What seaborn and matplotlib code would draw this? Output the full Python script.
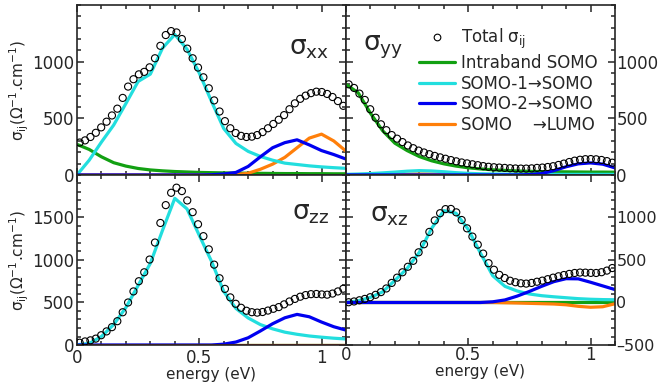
import numpy as np
import pandas as pd
import seaborn as sns
import matplotlib
matplotlib.use("Agg")
from matplotlib import pyplot as plt
from matplotlib.ticker import MultipleLocator
from matplotlib.lines import Line2D

# energy grids (eV)
e_tot = [0.011, 0.033, 0.055, 0.077, 0.099, 0.121, 0.143, 0.165, 0.187, 0.209,
         0.231, 0.253, 0.275, 0.297, 0.319, 0.341, 0.363, 0.385, 0.407, 0.429,
         0.451, 0.473, 0.495, 0.517, 0.539, 0.561, 0.583, 0.605, 0.627, 0.649,
         0.671, 0.693, 0.715, 0.737, 0.759, 0.781, 0.803, 0.825, 0.847, 0.869,
         0.891, 0.913, 0.935, 0.957, 0.979, 1.001, 1.023, 1.045, 1.067, 1.089]
e_line = [0.0, 0.05, 0.10, 0.15, 0.20, 0.25, 0.30, 0.35, 0.40, 0.45, 0.50, 0.55,
          0.60, 0.65, 0.70, 0.75, 0.80, 0.85, 0.90, 0.95, 1.00, 1.05, 1.10]

# ---- sigma_xx
xx_total = [286, 305, 335, 372, 420, 470, 525, 585, 680, 780,
            845, 888, 910, 950, 1030, 1140, 1235, 1270, 1258, 1200,
            1115, 1030, 948, 862, 765, 658, 560, 475, 412, 370,
            345, 335, 338, 352, 378, 412, 450, 487, 528, 580,
            632, 672, 700, 722, 735, 732, 715, 688, 652, 610]
xx_intra = [270, 225, 160, 108, 78, 57, 44, 36, 30, 26, 22, 20,
            18, 16, 15, 14, 13, 12, 12, 11, 11, 10, 10]
xx_s1 = [0, 130, 290, 440, 630, 825, 890, 1120, 1240, 1110, 900, 650,
         410, 278, 208, 163, 130, 104, 92, 80, 71, 64, 58]
xx_s2 = [0, 0, 0, 0, 0, 0, 0, 0, 0, 0, 0, 2,
         8, 22, 75, 160, 240, 285, 310, 265, 215, 180, 140]
xx_lumo = [0, 0, 0, 0, 0, 0, 0, 0, 0, 0, 0, 0,
           0, 3, 15, 50, 95, 155, 240, 325, 360, 300, 210]
xx_other = [0] * 23

# ---- sigma_yy
yy_total = [800, 768, 718, 662, 580, 505, 447, 395, 352, 320,
            290, 260, 236, 215, 198, 183, 168, 155, 143, 131,
            120, 110, 102, 94, 86, 78, 72, 68, 65, 62,
            59, 57, 56, 56, 58, 62, 65, 70, 77, 88,
            100, 114, 126, 134, 139, 140, 138, 132, 122, 108]
yy_intra = [800, 725, 545, 390, 280, 215, 162, 125, 98, 78, 63, 53,
            45, 40, 35, 32, 30, 28, 27, 26, 25, 25, 24]
yy_s1 = [5, 8, 12, 18, 25, 33, 38, 35, 28, 20, 14, 10,
         8, 7, 6, 5, 5, 5, 5, 5, 5, 5, 5]
yy_s2 = [0, 0, 0, 0, 0, 0, 0, 0, 0, 0, 0, 0,
         0, 0, 0, 3, 12, 38, 72, 98, 106, 95, 62]
yy_lumo = [0, 0, 1, 2, 3, 6, 8, 7, 4, 3, 2, 1,
           0, 0, 0, 0, 0, 0, 0, 0, 0, 0, 0]

# ---- sigma_zz
zz_total = [27, 42, 55, 75, 115, 160, 210, 280, 385, 500,
            630, 750, 855, 1005, 1205, 1435, 1645, 1790, 1850, 1810,
            1700, 1562, 1420, 1280, 1125, 945, 785, 660, 560, 485,
            438, 403, 386, 381, 388, 405, 426, 446, 478, 512,
            542, 568, 587, 598, 600, 595, 592, 605, 630, 662]
zz_intra = [0] * 23
zz_s1 = [3, 18, 100, 240, 440, 700, 960, 1350, 1725, 1600, 1290, 985,
         630, 430, 318, 240, 190, 151, 126, 106, 92, 80, 71]
zz_s2 = [0, 0, 0, 0, 0, 0, 0, 0, 0, 0, 0, 0,
         10, 35, 85, 165, 250, 320, 360, 332, 270, 215, 175]
zz_lumo = [0] * 23
zz_other = [0] * 23

# ---- sigma_xz
xz_total = [3, 12, 26, 42, 62, 90, 122, 165, 230, 292,
            355, 420, 490, 590, 685, 830, 965, 1050, 1098, 1100,
            1060, 970, 872, 775, 680, 575, 462, 385, 325, 288,
            256, 238, 226, 222, 230, 244, 257, 274, 292, 308,
            323, 336, 347, 352, 351, 348, 347, 356, 375, 405]
xz_intra = [0] * 23
xz_s1 = [0, 20, 60, 125, 260, 400, 590, 870, 1080, 1050, 860, 580,
         315, 190, 135, 100, 80, 67, 56, 45, 38, 34, 32]
xz_s2 = [0, 0, 0, 0, 0, 0, 0, 0, 0, 0, 0, 0,
         8, 30, 75, 130, 190, 245, 280, 278, 238, 195, 152]
xz_lumo = [0, 0, 0, 0, 0, 0, 0, 0, 0, 0, 0, 0,
           0, -3, -6, -10, -14, -18, -27, -45, -56, -50, -15]

green = '#12a012'
cyan = '#22dede'
blue = '#0000f0'
orange = '#ff7f0a'

sns.set_style('ticks')
plt.rcParams['font.family'] = ['DejaVu Sans']
plt.rcParams['font.size'] = 11
plt.rcParams['mathtext.fontset'] = 'dejavusans'
plt.rcParams['mathtext.default'] = 'regular'

fig = plt.figure(figsize=(6.59, 3.87), dpi=100)
L, M, R = 0.1168, 0.525, 0.9332
B, C, T = 0.1085, 0.548, 0.987
ax_xx = fig.add_axes([L, C, M - L, T - C])
ax_yy = fig.add_axes([M, C, R - M, T - C])
ax_zz = fig.add_axes([L, B, M - L, C - B])
ax_xz = fig.add_axes([M, B, R - M, C - B])

panels = [
    (ax_xx, xx_total, xx_intra, xx_s1, xx_s2, xx_lumo, xx_other, '#8a3c12', 'σ$_{xx}$', (0.79, 0.75)),
    (ax_yy, yy_total, yy_intra, yy_s1, yy_s2, yy_lumo, None, None, 'σ$_{yy}$', (0.063, 0.75)),
    (ax_zz, zz_total, zz_intra, zz_s1, zz_s2, zz_lumo, zz_other, '#c80000', 'σ$_{zz}$', (0.80, 0.776)),
    (ax_xz, xz_total, xz_intra, xz_s1, xz_s2, xz_lumo, None, None, 'σ$_{xz}$', (0.09, 0.765)),
]

for ax, tot, intra, s1, s2, lumo, other, ocol, title, tpos in panels:
    df = pd.DataFrame({'energy': e_line, 'intra': intra, 's1': s1, 's2': s2, 'lumo': lumo})
    sns.lineplot(data=df, x='energy', y='intra', ax=ax, color=green, lw=2.3)
    sns.lineplot(data=df, x='energy', y='lumo', ax=ax, color=orange, lw=2.3)
    sns.lineplot(data=df, x='energy', y='s1', ax=ax, color=cyan, lw=2.3)
    sns.lineplot(data=df, x='energy', y='s2', ax=ax, color=blue, lw=2.3)
    if other is not None:
        sns.lineplot(x=e_line, y=other, ax=ax, color=ocol, lw=1.8)
    sns.scatterplot(x=e_tot, y=tot, ax=ax, marker='o', s=26, facecolor='none',
                    edgecolor='black', linewidth=0.8, zorder=5)
    ax.text(tpos[0], tpos[1], title, transform=ax.transAxes, fontsize=19,
            va='center', ha='left')
    ax.set_xlim(0, 1.1)
    ax.set_xticks([0, 0.5, 1])
    ax.set_xticklabels(['0', '0.5', '1'])
    ax.xaxis.set_minor_locator(MultipleLocator(0.1))
    ax.yaxis.set_minor_locator(MultipleLocator(100))
    ax.tick_params(which='both', direction='in', top=True, bottom=True,
                   left=True, right=True, width=1.1, labelsize=12, pad=2)
    ax.tick_params(which='major', length=5)
    ax.tick_params(which='minor', length=2.6)
    for sp in ax.spines.values():
        sp.set_linewidth(1.2)
    ax.set_xlabel('')
    ax.set_ylabel('')

ax_xx.set_ylim(0, 1500)
ax_yy.set_ylim(0, 1500)
ax_zz.set_ylim(0, 2000)
ax_xz.set_ylim(-500, 1500)
ax_xx.set_yticks([0, 500, 1000])
ax_yy.set_yticks([0, 500, 1000])
ax_zz.set_yticks([0, 500, 1000, 1500])
ax_xz.set_yticks([-500, 0, 500, 1000])
ax_xz.set_yticklabels(['\u2013500', '0', '500', '1000'])

for ax in (ax_xx, ax_yy):
    ax.tick_params(labelbottom=False)
for ax in (ax_yy, ax_xz):
    ax.tick_params(labelleft=False, labelright=True, pad=1)
ax_xz.tick_params(axis='y', labelsize=11.5)
ax_zz.tick_params(axis='x', pad=3)

ylab = 'σ$_{ij}$(Ω$^{-1}$.cm$^{-1}$)'
for ax in (ax_xx, ax_zz):
    ax.set_ylabel(ylab, fontsize=11, labelpad=1)
for ax in (ax_zz, ax_xz):
    ax.set_xlabel('energy (eV)', fontsize=11, labelpad=0)

handles = [
    Line2D([], [], ls='none', marker='o', ms=4.8, mfc='none', mec='black', mew=0.8),
    Line2D([], [], color=green, lw=2.3),
    Line2D([], [], color=cyan, lw=2.3),
    Line2D([], [], color=blue, lw=2.3),
    Line2D([], [], color=orange, lw=2.3),
]
labels = ['Total σ$_{ij}$', 'Intraband SOMO', 'SOMO-1\u2192SOMO',
          'SOMO-2\u2192SOMO', 'SOMO    \u2192LUMO']
ax_yy.legend(handles, labels, loc='upper left', bbox_to_anchor=(0.27, 0.87),
             frameon=False, fontsize=12, handlelength=2.2, handletextpad=0.35,
             labelspacing=0.16, borderpad=0, borderaxespad=0)

fig.savefig('out.png', dpi=100)
